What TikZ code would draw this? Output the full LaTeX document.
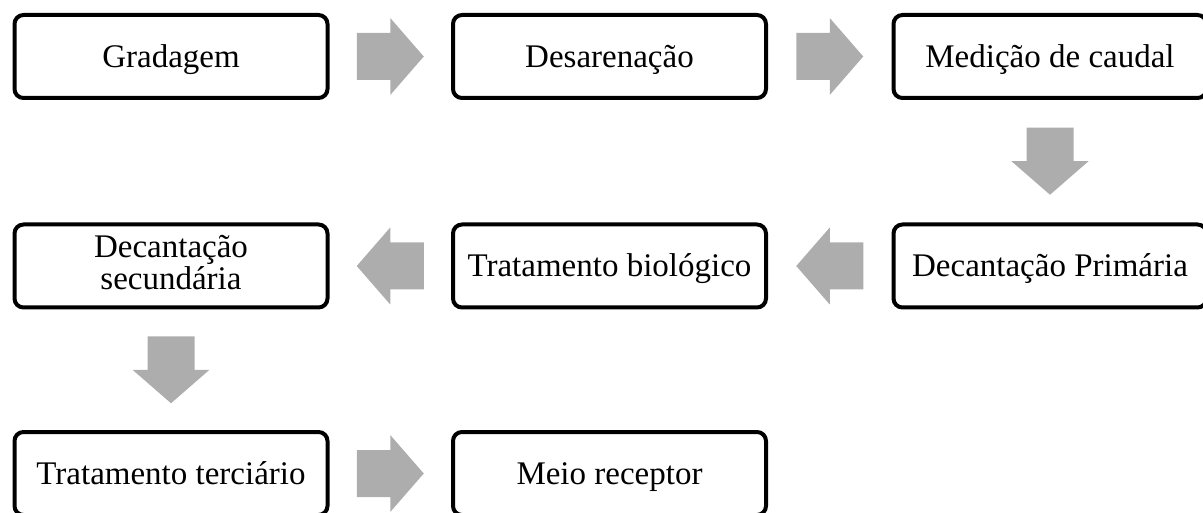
\documentclass[tikz,border=0pt]{standalone}
\usepackage{fontspec}
\setmainfont{Liberation Serif}
\usetikzlibrary{calc}
\definecolor{arrowgray}{RGB}{173,173,173}
\begin{document}
\begin{tikzpicture}[x=1pt,y=-1pt,
    stage/.style={draw,line width=4pt,rounded corners=9pt,minimum width=313pt,minimum height=83pt,
      inner sep=0pt,align=center,font=\fontsize{33}{32}\selectfont,text height=22pt,text depth=0pt},
    flowarrow/.pic={\fill[arrowgray] (-33.5,-23.5) -- (0,-23.5) -- (0,-38.5) -- (33.5,0)
      -- (0,38.5) -- (0,23.5) -- (-33.5,23.5) -- cycle;}]
    \useasboundingbox (0,0) rectangle (1203,513);
    \clip (0,0) rectangle (1203,513);
    % stages
    \node[stage] (grad) at (171,56.5) {Gradagem};
    \node[stage] (desar) at (609.5,56.5) {Desarenação};
    \node[stage] (medic) at (1050,56.5) {Medição de caudal};
    \node[stage] (decprim) at (1050,266) {Decantação Primária};
    \node[stage] (tratbio) at (609.5,266) {Tratamento biológico};
    \node[stage,text height=48pt] (decsec) at (171,266) {Decantação\\secundária};
    \node[stage] (tratter) at (171,473.5) {Tratamento terciário};
    \node[stage] (meio) at (609.5,473.5) {Meio receptor};
    % block arrows
    \path ($(grad.east)!0.5!(desar.west)$) pic {flowarrow};
    \path ($(desar.east)!0.5!(medic.west)$) pic {flowarrow};
    \path ($(medic.south)!0.5!(decprim.north)$) pic[rotate=-90] {flowarrow};
    \path ($(decprim.west)!0.5!(tratbio.east)$) pic[rotate=180] {flowarrow};
    \path ($(tratbio.west)!0.5!(decsec.east)$) pic[rotate=180] {flowarrow};
    \path ($(decsec.south)!0.5!(tratter.north)$) pic[rotate=-90] {flowarrow};
    \path ($(tratter.east)!0.5!(meio.west)$) pic {flowarrow};
\end{tikzpicture}
\end{document}
